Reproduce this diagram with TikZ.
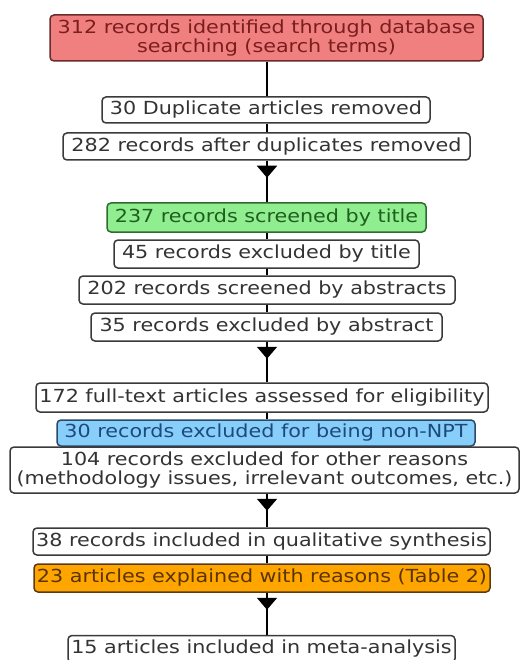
\documentclass[tikz,border=0pt]{standalone}
\usepackage{fontspec}
\setmainfont[FakeStretch=1.15]{DejaVu Sans}
\usetikzlibrary{arrows.meta}
\definecolor{boxtext}{HTML}{333333}
\definecolor{boxline}{HTML}{3A3A3A}
\definecolor{redfill}{HTML}{F08080}
\definecolor{redline}{HTML}{6B2A2A}
\definecolor{redtext}{HTML}{7A1E1E}
\definecolor{greenfill}{HTML}{90EE90}
\definecolor{greenline}{HTML}{2E6B2E}
\definecolor{greentext}{HTML}{1E5E1E}
\definecolor{bluefill}{HTML}{87CEFA}
\definecolor{blueline}{HTML}{2A4A6A}
\definecolor{bluetext}{HTML}{1E4A7A}
\definecolor{orangefill}{HTML}{FFA500}
\definecolor{orangeline}{HTML}{5A3A10}
\definecolor{orangetext}{HTML}{5A3400}
\tikzset{
  x=1pt, y=-1pt,
  box/.style={draw=boxline, line width=1.5pt, rounded corners=4pt, fill=white,
    text=boxtext, align=center, inner sep=0pt, font=\fontsize{18}{19}\selectfont},
  redbox/.style={box, draw=redline, fill=redfill, text=redtext},
  greenbox/.style={box, draw=greenline, fill=greenfill, text=greentext},
  bluebox/.style={box, draw=blueline, fill=bluefill, text=bluetext},
  orangebox/.style={box, draw=orangeline, fill=orangefill, text=orangetext},
  link/.style={line width=2pt, black},
  tipper/.style={line width=2pt, black, {Triangle[reversed,width=20pt,length=12pt]}-, shorten <=5pt},
}
\newcommand{\bx}[7]{\node[#1, minimum width=#4pt, minimum height=#5pt] (#2) at (#3,#6) {#7};}
\begin{document}
\begin{tikzpicture}
\useasboundingbox (0,0) rectangle (521,660);
\coordinate (L) at (267,0);
\bx{redbox}{n1}{266.5}{433}{46}{38}{312 records identified through database\\searching (search terms)}
\bx{box}{n2}{266}{328}{26}{110}{30 Duplicate articles removed}
\bx{box}{n3}{266.5}{407}{27}{146.5}{282 records after duplicates removed}
\bx{greenbox}{n4}{266.5}{319}{29}{217.5}{237 records screened by title}
\bx{box}{n5}{266.5}{305}{28}{254}{45 records excluded by title}
\bx{box}{n6}{267}{376}{28}{290}{202 records screened by abstracts}
\bx{box}{n7}{266.5}{351}{28}{327}{35 records excluded by abstract}
\bx{box}{n8}{262}{452}{29}{397.5}{172 full-text articles assessed for eligibility}
\bx{bluebox}{n9}{266}{418}{26}{433}{30 records excluded for being non-NPT}
\bx{box}{n10}{264.5}{509}{46}{470}{104 records excluded for other reasons\\(methodology issues, irrelevant outcomes, etc.)}
\bx{box}{n11}{261.5}{457}{27}{541.5}{38 records included in qualitative synthesis}
\bx{orangebox}{n12}{262}{456}{28}{578}{23 articles explained with reasons (Table 2)}
\bx{box}{n13}{261.5}{387}{27}{649}{15 articles included in meta-analysis}
\foreach \a/\b in {n1/n2,n2/n3,n3/n4,n4/n5,n5/n6,n6/n7,n7/n8,n8/n9,n10/n11,n11/n12,n12/n13}
  \draw[link] (\a.south -| L) -- (\b.north -| L);
\foreach \a/\b in {n3/n4,n7/n8,n10/n11,n12/n13}
  \draw[tipper] (\a.south -| L) -- (\b.north -| L);
\end{tikzpicture}
\end{document}
